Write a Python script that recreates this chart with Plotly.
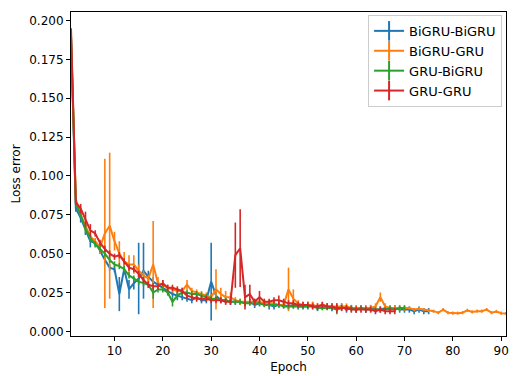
import plotly.graph_objects as go

names = ["BiGRU-BiGRU", "BiGRU-GRU", "GRU-BiGRU", "GRU-GRU"]
colors = ["#1f77b4", "#ff7f0e", "#2ca02c", "#d62728"]

blue = [0.190, 0.079, 0.073, 0.066, 0.058, 0.057, 0.052, 0.046, 0.041, 0.040,
        0.024, 0.040, 0.027, 0.031, 0.034, 0.039, 0.035, 0.032, 0.030, 0.028,
        0.026, 0.024, 0.023, 0.022, 0.021, 0.020, 0.022, 0.020, 0.020, 0.032,
        0.023, 0.020, 0.020, 0.019, 0.019, 0.019, 0.018, 0.019, 0.017, 0.018,
        0.018, 0.017, 0.016, 0.017, 0.017, 0.016, 0.017, 0.016, 0.016, 0.016,
        0.017, 0.015, 0.016, 0.016, 0.015, 0.015, 0.016, 0.014, 0.015, 0.014,
        0.015, 0.014, 0.015, 0.014, 0.014, 0.015, 0.014, 0.015, 0.014, 0.014,
        0.014, 0.013, 0.014, 0.013, 0.013]
blue_err = [0.000, 0.002, 0.003, 0.004, 0.004, 0.002, 0.002, 0.002, 0.002, 0.002,
            0.011, 0.003, 0.006, 0.004, 0.023, 0.018, 0.004, 0.003, 0.002, 0.002,
            0.002, 0.002, 0.003, 0.002, 0.002, 0.002, 0.002, 0.002, 0.002, 0.025,
            0.003, 0.002, 0.002, 0.002, 0.002, 0.002, 0.002, 0.002, 0.002, 0.002,
            0.002, 0.003, 0.002, 0.002, 0.002, 0.002, 0.002, 0.002, 0.002, 0.002,
            0.002, 0.002, 0.002, 0.002, 0.002, 0.002, 0.002, 0.002, 0.002, 0.002,
            0.002, 0.002, 0.002, 0.002, 0.002, 0.002, 0.002, 0.002, 0.002, 0.002,
            0.002, 0.002, 0.002, 0.002, 0.002]

orange = [0.190, 0.085, 0.075, 0.068, 0.061, 0.058, 0.054, 0.063, 0.068, 0.058,
          0.050, 0.045, 0.043, 0.043, 0.039, 0.036, 0.034, 0.043, 0.031, 0.030,
          0.028, 0.027, 0.026, 0.026, 0.030, 0.026, 0.025, 0.024, 0.023, 0.022,
          0.027, 0.024, 0.022, 0.022, 0.020, 0.019, 0.019, 0.019, 0.019, 0.019,
          0.018, 0.018, 0.018, 0.017, 0.017, 0.027, 0.021, 0.018, 0.017, 0.017,
          0.017, 0.016, 0.017, 0.016, 0.016, 0.016, 0.016, 0.016, 0.015, 0.015,
          0.015, 0.015, 0.015, 0.016, 0.022, 0.016, 0.015, 0.015, 0.015, 0.015,
          0.015, 0.014, 0.0145, 0.014, 0.0135, 0.013, 0.012, 0.014, 0.012, 0.0117,
          0.0117, 0.012, 0.0135, 0.0125, 0.013, 0.013, 0.014, 0.012, 0.0128, 0.0117,
          0.0115]
orange_err = [0.000, 0.002, 0.002, 0.003, 0.003, 0.002, 0.004, 0.048, 0.047, 0.006,
              0.008, 0.006, 0.006, 0.006, 0.004, 0.003, 0.002, 0.028, 0.004, 0.003,
              0.002, 0.002, 0.002, 0.002, 0.003, 0.002, 0.002, 0.002, 0.002, 0.002,
              0.013, 0.004, 0.004, 0.003, 0.002, 0.002, 0.002, 0.002, 0.002, 0.002,
              0.002, 0.002, 0.002, 0.002, 0.002, 0.014, 0.006, 0.002, 0.002, 0.002,
              0.002, 0.002, 0.002, 0.002, 0.002, 0.002, 0.002, 0.002, 0.002, 0.002,
              0.002, 0.002, 0.002, 0.002, 0.003, 0.002, 0.002, 0.002, 0.002, 0.002,
              0.001, 0.001, 0.001, 0.001, 0.001, 0.001, 0.001, 0.001, 0.001, 0.001,
              0.001, 0.001, 0.001, 0.001, 0.001, 0.001, 0.001, 0.001, 0.001, 0.001,
              0.001]

green = [0.190, 0.082, 0.075, 0.066, 0.060, 0.056, 0.053, 0.050, 0.046, 0.043,
         0.042, 0.040, 0.036, 0.034, 0.032, 0.031, 0.030, 0.025, 0.027, 0.027,
         0.025, 0.019, 0.023, 0.025, 0.025, 0.024, 0.024, 0.023, 0.022, 0.021,
         0.021, 0.020, 0.020, 0.019, 0.019, 0.019, 0.018, 0.018, 0.018, 0.018,
         0.017, 0.017, 0.017, 0.017, 0.016, 0.016, 0.016, 0.016, 0.016, 0.016,
         0.016, 0.015, 0.015, 0.015, 0.015, 0.014, 0.015, 0.015, 0.015, 0.014,
         0.015, 0.014, 0.014, 0.014, 0.014, 0.014, 0.015, 0.014, 0.015, 0.015]
green_err = [0.000, 0.002, 0.002, 0.003, 0.002, 0.002, 0.002, 0.002, 0.002, 0.002,
             0.002, 0.002, 0.002, 0.002, 0.002, 0.002, 0.002, 0.004, 0.002, 0.002,
             0.002, 0.003, 0.002, 0.002, 0.002, 0.002, 0.002, 0.002, 0.002, 0.002,
             0.0015, 0.0015, 0.0015, 0.0015, 0.0015, 0.0015, 0.0015, 0.0015, 0.0015, 0.0015,
             0.0015, 0.0015, 0.0015, 0.0015, 0.0015, 0.0015, 0.0015, 0.0015, 0.0015, 0.0015,
             0.0015, 0.0015, 0.0015, 0.0015, 0.0015, 0.003, 0.0015, 0.0015, 0.0015, 0.0015,
             0.0015, 0.0015, 0.0015, 0.0015, 0.0015, 0.0015, 0.0015, 0.0015, 0.0015, 0.0015]

red = [0.195, 0.083, 0.079, 0.072, 0.065, 0.063, 0.057, 0.053, 0.050, 0.048,
       0.049, 0.045, 0.041, 0.040, 0.037, 0.033, 0.030, 0.029, 0.029, 0.031,
       0.028, 0.028, 0.027, 0.026, 0.023, 0.022, 0.021, 0.021, 0.021, 0.020,
       0.020, 0.020, 0.019, 0.019, 0.049, 0.0535, 0.022, 0.024, 0.019, 0.022,
       0.019, 0.019, 0.020, 0.020, 0.019, 0.018, 0.018, 0.017, 0.017, 0.017,
       0.016, 0.016, 0.017, 0.016, 0.016, 0.015, 0.015, 0.015, 0.014, 0.014,
       0.014, 0.014, 0.014, 0.013, 0.014, 0.013, 0.013, 0.013]
red_err = [0.000, 0.002, 0.003, 0.005, 0.004, 0.002, 0.002, 0.002, 0.002, 0.002,
           0.002, 0.002, 0.002, 0.002, 0.002, 0.002, 0.002, 0.002, 0.002, 0.002,
           0.002, 0.002, 0.002, 0.002, 0.002, 0.002, 0.002, 0.002, 0.002, 0.002,
           0.002, 0.002, 0.002, 0.002, 0.021, 0.025, 0.008, 0.006, 0.002, 0.004,
           0.002, 0.002, 0.002, 0.003, 0.002, 0.002, 0.002, 0.002, 0.002, 0.002,
           0.002, 0.002, 0.002, 0.002, 0.002, 0.003, 0.002, 0.002, 0.002, 0.002,
           0.002, 0.002, 0.002, 0.002, 0.002, 0.002, 0.002, 0.002]

series = [blue, orange, green, red]
errors = [blue_err, orange_err, green_err, red_err]

x_ticks = [10, 20, 30, 40, 50, 60, 70, 80, 90]
y_ticks = [0.0, 0.025, 0.05, 0.075, 0.1, 0.125, 0.15, 0.175, 0.2]

fig = go.Figure()
for name, col, vals, errs in zip(names, colors, series, errors):
    fig.add_trace(go.Scatter(
        x=list(range(1, len(vals) + 1)), y=vals, mode="lines", name=name,
        line=dict(color=col, width=2), showlegend=False,
        error_y=dict(type="data", array=errs, visible=True, color=col,
                     thickness=1.6, width=0),
    ))
# legend handles styled like matplotlib errorbar handles (line with vertical bar)
for name, col in zip(names, colors):
    fig.add_trace(go.Scatter(
        x=[None], y=[None], mode="lines+markers", name=name,
        line=dict(color=col, width=2),
        marker=dict(symbol="line-ns-open", size=14, color=col, line=dict(width=2, color=col)),
    ))

axis_common = dict(showline=True, linecolor="black", linewidth=1, mirror=True,
                   ticks="outside", ticklen=4, tickcolor="black", showgrid=False,
                   zeroline=False, tickfont=dict(size=12, color="black"))
fig.update_layout(
    width=513, height=376,
    margin=dict(l=71, r=4, t=12, b=37),
    paper_bgcolor="white", plot_bgcolor="white",
    font=dict(family="DejaVu Sans", size=12, color="black"),
    xaxis=dict(range=[1, 91], tickvals=x_ticks, title=dict(text="Epoch", standoff=5, font=dict(size=12)), **axis_common),
    yaxis=dict(range=[-0.003, 0.2055], tickvals=y_ticks, tickformat=".3f",
               title=dict(text="Loss error", standoff=6, font=dict(size=12)), **axis_common),
    legend=dict(x=0.991, y=0.991, xanchor="right", yanchor="top",
                bgcolor="rgba(255,255,255,0.8)", bordercolor="#cccccc", borderwidth=1,
                font=dict(size=13), tracegroupgap=0, itemwidth=30),
    showlegend=True,
)
fig.write_html("out.html")
